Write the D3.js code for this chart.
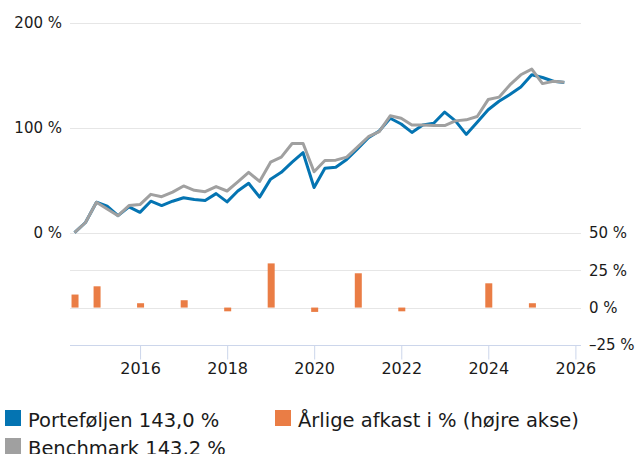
<!DOCTYPE html>
<html>
  <head>
    <script src="https://d3js.org/d3.v7.min.js"></script>
    <style>
      body { margin: 0; background: #fff; }
      text { font-family: "DejaVu Sans", Verdana, sans-serif; fill: #1a1a1a; }
    </style>
  </head>
  <body>
    <div id="chart"></div>
    <script>
      // Quarter-end dates for the two cumulative return lines
      const quarters = [
        "2014-06-30", "2014-09-30", "2014-12-31",
        "2015-03-31", "2015-06-30", "2015-09-30", "2015-12-31",
        "2016-03-31", "2016-06-30", "2016-09-30", "2016-12-31",
        "2017-03-31", "2017-06-30", "2017-09-30", "2017-12-31",
        "2018-03-31", "2018-06-30", "2018-09-30", "2018-12-31",
        "2019-03-31", "2019-06-30", "2019-09-30", "2019-12-31",
        "2020-03-31", "2020-06-30", "2020-09-30", "2020-12-31",
        "2021-03-31", "2021-06-30", "2021-09-30", "2021-12-31",
        "2022-03-31", "2022-06-30", "2022-09-30", "2022-12-31",
        "2023-03-31", "2023-06-30", "2023-09-30", "2023-12-31",
        "2024-03-31", "2024-06-30", "2024-09-30", "2024-12-31",
        "2025-03-31", "2025-06-30", "2025-09-30"
      ];

      // Cumulative return in %
      const portfolio = [
        0, 9.7, 29,
        25.2, 16.2, 24.6, 19.4,
        30, 25.8, 30, 33.3,
        31.6, 30.7, 37.2, 29.4,
        39.7, 47.1, 33.9, 51,
        57.5, 67.2, 76.2, 43,
        61.4, 62.3, 69.7, 80,
        90.4, 96.8, 109, 103.5,
        95.5, 102.6, 104.2, 114.9,
        106.5, 93.6, 105.2, 117.1,
        125.2, 131.6, 138.8, 150.4,
        147.8, 144.2, 143.0
      ];
      const benchmark = [
        0, 9.7, 29,
        22.6, 16.2, 25.8, 26.8,
        36.5, 34.3, 38.7, 44.5,
        40.4, 39.1, 43.9, 39.7,
        48.4, 57.5, 48.8, 67.2,
        72, 84.9, 84.9, 58,
        68.7, 69.1, 72, 81.7,
        91.4, 96.2, 111.3, 109,
        102.6, 102.6, 102, 102,
        106.5, 107.5, 110.7, 126.8,
        129.1, 140.7, 150.4, 155.8,
        142, 144.2, 143.2
      ];

      // Annual returns (right axis)
      const barDates = ["2014-06-30", "2015-01-01", "2016-01-01", "2017-01-01", "2018-01-01",
        "2019-01-01", "2020-01-01", "2021-01-01", "2022-01-01", "2023-01-01", "2024-01-01", "2025-01-01"];
      const annual = [8.7, 14.2, 2.9, 4.9, -2.5, 29.5, -2.9, 22.9, -2.5, 0, 16.2, 2.9];

      const leftTicks = [0, 100, 200];
      const rightTicks = [-25, 0, 25, 50];
      const yearTicks = [2016, 2018, 2020, 2022, 2024, 2026];

      const legendItems = [
        { label: "Porteføljen 143,0 %", color: "#0474b2" },
        { label: "Årlige afkast i % (højre akse)", color: "#ea7d45" },
        { label: "Benchmark 143,2 %", color: "#a0a0a0" }
      ];

      const width = 636, height = 454;
      const plot = { left: 70, right: 581 };

      const svg = d3.select("#chart")
        .append("svg")
        .attr("width", width)
        .attr("height", height);

      const parse = d3.timeParse("%Y-%m-%d");

      const x = d3.scaleTime()
        .domain([new Date(2014, 4, 23), new Date(2026, 1, 17)])
        .range([plot.left, plot.right]);

      const yLeft = d3.scaleLinear().domain([0, 200]).range([232.7, 22.7]);
      const yRight = d3.scaleLinear().domain([-25, 50]).range([345, 232.7]);

      const fmt = v => (v < 0 ? "\u2013" + Math.abs(v) : v) + " %";

      // Gridlines
      const grid = svg.append("g");
      grid.selectAll(".gl").data(leftTicks).join("line")
        .attr("x1", plot.left).attr("x2", plot.right)
        .attr("y1", d => Math.round(yLeft(d)) + 0.5).attr("y2", d => Math.round(yLeft(d)) + 0.5)
        .attr("stroke", "#e6e6e6");
      grid.selectAll(".gr").data(rightTicks.filter(d => d > -25 && d < 50)).join("line")
        .attr("x1", plot.left).attr("x2", plot.right)
        .attr("y1", d => Math.round(yRight(d)) + 0.5).attr("y2", d => Math.round(yRight(d)) + 0.5)
        .attr("stroke", "#e6e6e6");

      // Left axis labels
      svg.append("g").selectAll("text").data(leftTicks).join("text")
        .attr("x", 62)
        .attr("y", d => yLeft(d))
        .attr("dy", "0.36em")
        .attr("text-anchor", "end")
        .style("font-size", "15px")
        .text(fmt);

      // Right axis labels
      svg.append("g").selectAll("text").data(rightTicks).join("text")
        .attr("x", 589)
        .attr("y", d => yRight(d))
        .attr("dy", "0.36em")
        .attr("text-anchor", "start")
        .style("font-size", "15px")
        .text(fmt);

      // Bottom axis
      const xAxis = d3.axisBottom(x)
        .tickValues(yearTicks.map(y => new Date(y, 0, 1)))
        .tickFormat(d3.timeFormat("%Y"))
        .tickSize(14)
        .tickSizeOuter(0);
      const gx = svg.append("g")
        .attr("transform", "translate(0,345.5)")
        .call(xAxis);
      gx.select(".domain").attr("stroke", "#ccd6eb").attr("d", `M${plot.left},0H${plot.right}`);
      gx.selectAll(".tick line").attr("stroke", "#ccd6eb");
      gx.selectAll(".tick text")
        .attr("y", 28)
        .attr("dy", 0)
        .style("font-size", "16px")
        .style("font-family", "'DejaVu Sans', Verdana, sans-serif")
        .attr("fill", "#1a1a1a");

      // Annual return bars
      const barW = 7;
      svg.append("g").selectAll("rect").data(annual).join("rect")
        .attr("x", (d, i) => x(parse(barDates[i])) - barW / 2 + 0.5)
        .attr("width", barW)
        .attr("y", d => yRight(Math.max(0, d)))
        .attr("height", d => Math.abs(yRight(d) - yRight(0)))
        .attr("fill", "#ea7d45");

      // Lines
      const line = d3.line()
        .x((d, i) => x(parse(quarters[i])))
        .y(d => yLeft(d));

      svg.append("path")
        .datum(portfolio)
        .attr("d", line)
        .attr("fill", "none")
        .attr("stroke", "#0474b2")
        .attr("stroke-width", 3)
        .attr("stroke-linejoin", "round");

      svg.append("path")
        .datum(benchmark)
        .attr("d", line)
        .attr("fill", "none")
        .attr("stroke", "#a0a0a0")
        .attr("stroke-width", 3)
        .attr("stroke-linejoin", "round");

      // Legend
      const legendPos = [[5, 410], [275, 410], [5, 438]];
      const lg = svg.append("g").selectAll("g").data(legendItems).join("g")
        .attr("transform", (d, i) => `translate(${legendPos[i][0]},${legendPos[i][1]})`);
      lg.append("rect")
        .attr("width", 16).attr("height", 16)
        .attr("fill", d => d.color);
      lg.append("text")
        .attr("x", 23)
        .attr("y", 16.5)
        .style("font-size", "19.5px")
        .text(d => d.label);
    </script>
  </body>
</html>
